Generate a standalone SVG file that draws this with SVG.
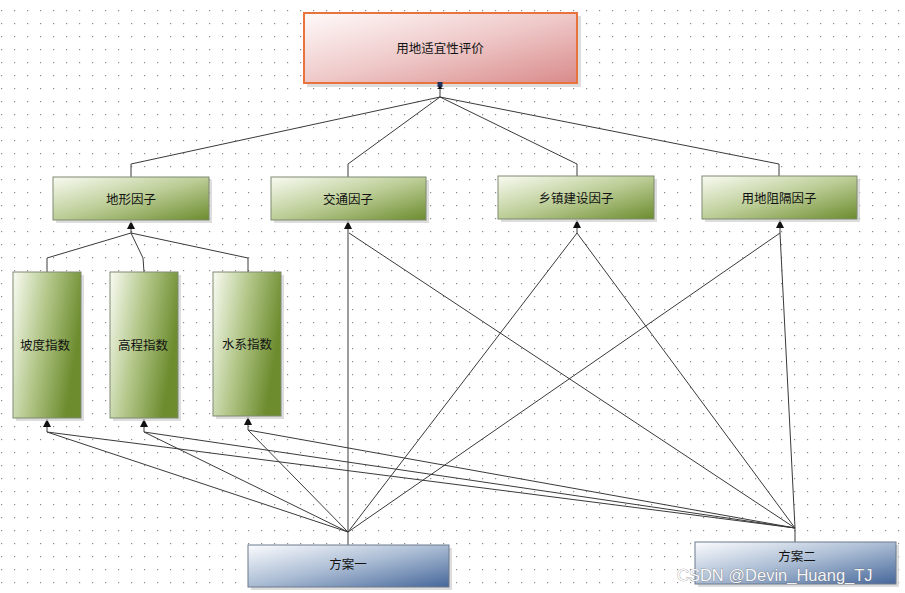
<svg xmlns="http://www.w3.org/2000/svg" width="905" height="593" viewBox="0 0 905 593">
<defs>
<pattern id="grid" x="1" y="10" width="13" height="13" patternUnits="userSpaceOnUse">
<rect x="0" y="0" width="1.2" height="1.2" fill="#8a8a8a"/>
</pattern>
<linearGradient id="gGreen" x1="0" y1="0" x2="1" y2="1">
<stop offset="0" stop-color="#f8fbf2"/>
<stop offset="0.5" stop-color="#bccd96"/>
<stop offset="1" stop-color="#6c8c2e"/>
</linearGradient>
<linearGradient id="gGreenTall" x1="0" y1="0" x2="1" y2="0.35">
<stop offset="0" stop-color="#f8fbf2"/>
<stop offset="0.5" stop-color="#b2c688"/>
<stop offset="1" stop-color="#6c8c2e"/>
</linearGradient>
<linearGradient id="gBlue" x1="0" y1="0" x2="1" y2="1">
<stop offset="0" stop-color="#fbfcfe"/>
<stop offset="0.5" stop-color="#a9bbd3"/>
<stop offset="1" stop-color="#46679a"/>
</linearGradient>
<linearGradient id="gRed" x1="0" y1="0" x2="1" y2="1">
<stop offset="0" stop-color="#fffafa"/>
<stop offset="0.5" stop-color="#efc9c9"/>
<stop offset="1" stop-color="#d98a8a"/>
</linearGradient>
<marker id="arr" viewBox="0 0 8 8" refX="8" refY="4" markerWidth="8" markerHeight="8" markerUnits="userSpaceOnUse" orient="auto">
<path d="M0,0 L8,4 L0,8 z" fill="#111"/>
</marker>
</defs>
<style>
.shadow{fill:#cfcfcf;opacity:0.7}
.g{fill:url(#gGreen);stroke:#7f8a70;stroke-width:1}
.gt{fill:url(#gGreenTall);stroke:#7f8a70;stroke-width:1}
.b{fill:url(#gBlue);stroke:#6d7a8c;stroke-width:1}
.r{fill:url(#gRed);stroke:#e8733d;stroke-width:2}
.t{font-family:"Noto Sans CJK SC","Noto Sans",sans-serif;font-size:12.5px;fill:#111;text-anchor:middle;dominant-baseline:central}
.c{fill:none;stroke:#3a3a3a;stroke-width:1}
</style>
<rect width="905" height="593" fill="#ffffff"/>
<rect width="905" height="593" fill="url(#grid)"/>

<g id="connectors">
<polyline class="c" points="440,97 131,164 131,177"/>
<polyline class="c" points="440,97 348,164 348,177"/>
<polyline class="c" points="440,97 577,164 577,176"/>
<polyline class="c" points="440,97 779,164 779,176"/>
<line class="c" x1="440" y1="97" x2="440" y2="89"/>
<polyline class="c" points="47,272 47,258 131,233"/>
<polyline class="c" points="144,272 143,258 131,233"/>
<polyline class="c" points="248,272 248,258 131,233"/>
<line class="c" x1="131" y1="233" x2="131" y2="221" marker-end="url(#arr)"/>
<line class="c" x1="348" y1="545" x2="348" y2="532"/>
<line class="c" x1="348" y1="532" x2="348" y2="221" marker-end="url(#arr)"/>
<line class="c" x1="348" y1="532" x2="577" y2="233"/>
<line class="c" x1="348" y1="532" x2="780" y2="233"/>
<line class="c" x1="348" y1="532" x2="47" y2="432"/>
<line class="c" x1="348" y1="532" x2="144" y2="432"/>
<line class="c" x1="348" y1="532" x2="248" y2="430"/>
<line class="c" x1="795" y1="542" x2="795" y2="528"/>
<line class="c" x1="795" y1="528" x2="349" y2="233"/>
<line class="c" x1="795" y1="528" x2="577" y2="233"/>
<line class="c" x1="795" y1="528" x2="780" y2="233"/>
<line class="c" x1="795" y1="528" x2="47" y2="432"/>
<line class="c" x1="795" y1="528" x2="144" y2="432"/>
<line class="c" x1="795" y1="528" x2="248" y2="430"/>
<line class="c" x1="577" y1="233" x2="577" y2="220" marker-end="url(#arr)"/>
<line class="c" x1="780" y1="233" x2="780" y2="220" marker-end="url(#arr)"/>
<line class="c" x1="47" y1="432" x2="47" y2="419" marker-end="url(#arr)"/>
<line class="c" x1="144" y1="432" x2="144" y2="419" marker-end="url(#arr)"/>
<line class="c" x1="248" y1="430" x2="248" y2="417" marker-end="url(#arr)"/>
</g>

<g id="node-top">
<rect class="shadow" x="307" y="16" width="274" height="71"/>
<rect class="r" x="304" y="13" width="273" height="70"/>
<text class="t" x="440" y="47">用地适宜性评价</text>
<rect x="437.5" y="82" width="5" height="5" fill="#23325a"/>
<path d="M437,89 L443,89 L440,86 z" fill="#111"/>
</g>

<g id="node-dixing">
<rect class="shadow" x="56" y="180" width="156" height="43"/>
<rect class="g" x="53" y="177" width="156" height="43"/>
<text class="t" x="131" y="198">地形因子</text>
</g>
<g id="node-jiaotong">
<rect class="shadow" x="274" y="180" width="155" height="43"/>
<rect class="g" x="271" y="177" width="155" height="43"/>
<text class="t" x="348" y="198">交通因子</text>
</g>
<g id="node-xiangzhen">
<rect class="shadow" x="501" y="179" width="156" height="43"/>
<rect class="g" x="498" y="176" width="156" height="43"/>
<text class="t" x="576" y="197">乡镇建设因子</text>
</g>
<g id="node-zuge">
<rect class="shadow" x="705" y="179" width="155" height="43"/>
<rect class="g" x="702" y="176" width="155" height="43"/>
<text class="t" x="779" y="197">用地阻隔因子</text>
</g>

<g id="node-podu">
<rect class="shadow" x="16" y="275" width="68" height="146"/>
<rect class="gt" x="13" y="272" width="68" height="146"/>
<text class="t" x="45" y="344">坡度指数</text>
</g>
<g id="node-gaocheng">
<rect class="shadow" x="113" y="275" width="68" height="146"/>
<rect class="gt" x="110" y="272" width="68" height="146"/>
<text class="t" x="143" y="344">高程指数</text>
</g>
<g id="node-shuixi">
<rect class="shadow" x="216" y="275" width="68" height="144"/>
<rect class="gt" x="213" y="272" width="68" height="144"/>
<text class="t" x="247" y="343">水系指数</text>
</g>

<g id="node-fangan1">
<rect class="shadow" x="251" y="548" width="201" height="42"/>
<rect class="b" x="248" y="545" width="201" height="42"/>
<text class="t" x="348" y="563">方案一</text>
</g>
<g id="node-fangan2">
<rect class="shadow" x="698" y="545" width="201" height="42"/>
<rect class="b" x="695" y="542" width="201" height="42"/>
<text class="t" x="797" y="555">方案二</text>
</g>

<text x="677" y="581" font-family="Liberation Sans, Arial, sans-serif" font-size="16.5" fill="#ffffff" stroke="#6a6a6a" stroke-width="0.6" paint-order="stroke" opacity="0.9">CSDN @Devin_Huang_TJ</text>
</svg>
